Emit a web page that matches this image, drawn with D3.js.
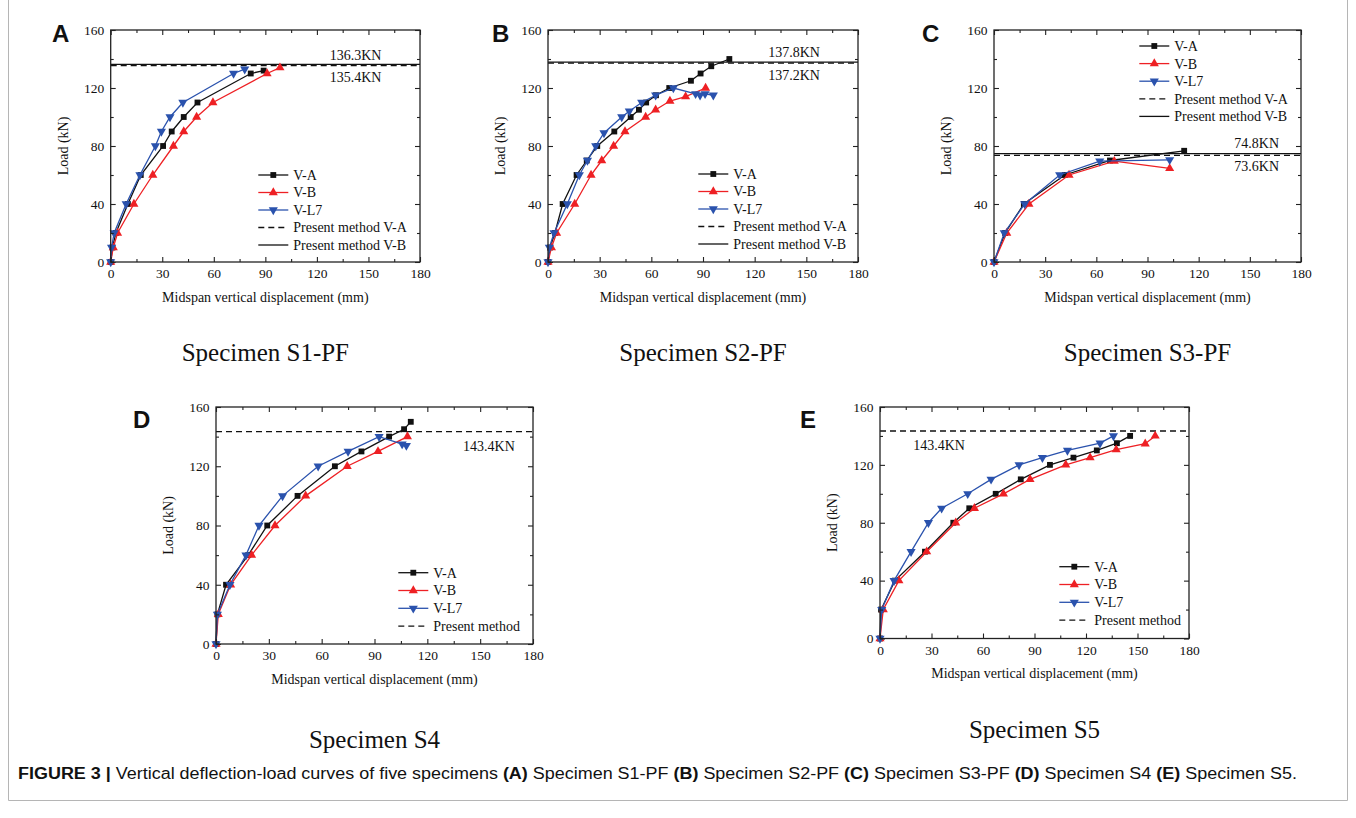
<!DOCTYPE html>
<html>
<head>
<meta charset="utf-8">
<script src="https://cdn.jsdelivr.net/npm/d3@7"></script>
<style>
  body { margin: 0; background: #fff; }
  svg text { font-family: "Times New Roman", "Liberation Serif", serif; fill: #111; }
  .caption text, text.caption { font-family: Arial, "Liberation Sans", sans-serif; }
</style>
</head>
<body>
<svg id="fig" width="1356" height="818"></svg>
<script>
// ticks shared by every panel
var xTicks = [0, 30, 60, 90, 120, 150, 180],
    xMinor = [15, 45, 75, 105, 135, 165],
    yTicks = [0, 40, 80, 120, 160],
    yMinor = [20, 60, 100, 140];

var seriesNames = ["V-A", "V-B", "V-L7"];

// Specimen S1-PF  [displacement mm, load kN]
var s1VA  = [[0,0],[1,10],[3,20],[10,40],[17.5,60],[30.5,80],[35.5,90],[42.5,100],[50.5,110],[81.5,130],[89,132]];
var s1VB  = [[0,0],[1.5,10],[4,20],[13.5,40],[24.5,60],[36.5,80],[42.5,90],[50,100],[59.5,110],[91,130],[98.5,134]];
var s1VL7 = [[0,0],[0.5,10],[2,20],[9,40],[17,60],[26,80],[29.5,90],[34.5,100],[42,110],[71.5,130],[78,133]];
var s1Ref = [136.3, 135.4];   // present method V-B (solid), V-A (dashed)

// Specimen S2-PF
var s2VA  = [[0,0],[1.2,10],[4,20],[8.5,40],[16.6,60],[22.5,70],[28.6,80],[38.5,90],[48,100],[52.8,105],[57,110],[62.7,115],[70.4,120],[83,125],[88.6,130],[94.8,135],[105.3,140]];
var s2VB  = [[0,0],[2,10],[5,20],[15.5,40],[25,60],[31.2,70],[38.1,80],[44.7,90],[56.7,100],[62.5,105],[70.8,111],[79.9,114],[91.5,120]];
var s2VL7 = [[0,0],[0.8,10],[3.5,20],[11.2,40],[18.2,60],[22.9,70],[27.7,80],[32.5,89],[42.8,100],[47.2,104],[54.4,110],[62.5,115],[72.8,120],[85.7,116],[88.3,115],[91.2,116],[96,115]];
var s2Ref = [137.8, 137.2];

// Specimen S3-PF
var s3VA  = [[0,0],[6.5,20],[17.5,40],[41.5,60],[68,70],[111.5,76.7]];
var s3VB  = [[0,0],[7.5,20],[20.5,40],[44,60],[70.5,69.5],[103,64.5]];
var s3VL7 = [[0,0],[6,20],[18,40],[38.5,60],[62,69.5],[103,70.5]];
var s3Ref = [74.8, 73.6];

// Specimen S4
var s4VA  = [[0,0],[0.8,20],[5.7,40],[18.3,60],[29.1,80],[46.3,100],[67.5,120],[82.6,130],[98.3,140],[106.8,145],[110.6,150]];
var s4VB  = [[0,0],[1.3,20],[8.3,40],[20.2,60],[33.5,80],[50.9,100],[74.5,120],[92,130],[108.7,140]];
var s4VL7 = [[0,0],[0.8,20],[7.9,40],[17,60],[24.4,80],[37.8,100],[58,120],[75,130],[92.6,140],[105.7,135],[108.1,134]];
var s4Ref = [143.4];

// Specimen S5
var s5VA  = [[0,0],[0.6,20],[8.7,40],[26.2,60],[42.7,80],[52,90],[67.4,100],[82,110],[99,120],[112.7,125],[126.3,130],[138,135],[145.7,140]];
var s5VB  = [[0,0],[1.9,20],[11,40],[27.2,60],[44.1,80],[55,90],[71.9,100],[87.4,110],[108.2,120],[122.4,125],[137.6,130.5],[154.5,134.6],[160.3,140]];
var s5VL7 = [[0,0],[1,20],[8.2,40],[18.1,60],[28.2,80],[35.9,90],[51.1,100],[64.7,110],[81,120],[94.6,125],[109.2,130],[128.2,135],[136,140]];
var s5Ref = [143.4];

var colors = ["#111111", "#ee2024", "#2a52ad"];

// layout for each panel (pixel boxes and label placement)
var panels = [
  { letter: "A", title: "Specimen S1-PF", box: [110.7, 30, 420, 262], lp: [52, 42], titleY: 361,
    series: [s1VA, s1VB, s1VL7],
    refs: [{ v: s1Ref[0], dash: null, lx: 142.5, dy: -4.5 }, { v: s1Ref[1], dash: "6,4", lx: 142.5, dy: 16 }],
    legend: { x: 258.3, y: 175, step: 17.5, method: ["Present method V-A", "Present method V-B"] } },
  { letter: "B", title: "Specimen S2-PF", box: [548, 30, 858, 262], lp: [492, 42], titleY: 361,
    series: [s2VA, s2VB, s2VL7],
    refs: [{ v: s2Ref[0], dash: null, lx: 142.9, dy: -4.8 }, { v: s2Ref[1], dash: "6,4", lx: 142.9, dy: 16.6 }],
    legend: { x: 698.3, y: 174, step: 17.5, method: ["Present method V-A", "Present method V-B"] } },
  { letter: "C", title: "Specimen S3-PF", box: [994, 30, 1301, 262], lp: [922, 42], titleY: 361,
    series: [s3VA, s3VB, s3VL7],
    refs: [{ v: s3Ref[0], dash: null, lx: 154, dy: -5.5 }, { v: s3Ref[1], dash: "6,4", lx: 154, dy: 16 }],
    legend: { x: 1139.3, y: 46, step: 17.6, method: ["Present method V-A", "Present method V-B"] } },
  { letter: "D", title: "Specimen S4", box: [216, 407, 533, 644], lp: [133, 428], titleY: 748,
    series: [s4VA, s4VB, s4VL7],
    refs: [{ v: s4Ref[0], dash: "6,4", lx: 155, dy: 19 }],
    legend: { x: 398.3, y: 572.7, step: 17.8, method: ["Present method"] } },
  { letter: "E", title: "Specimen S5", box: [880, 407, 1189, 638.5], lp: [800, 428], titleY: 738,
    series: [s5VA, s5VB, s5VL7],
    refs: [{ v: s5Ref[0], dash: "6,4", lx: 34.4, dy: 18.7 }],
    legend: { x: 1059.3, y: 566.7, step: 17.8, method: ["Present method"] } }
];

var svg = d3.select("#fig");

// light frame round the figure
svg.append("path")
  .attr("d", "M8.5,-2V800.5H1347.5V-2")
  .attr("fill", "none").attr("stroke", "#b5b5b5").attr("stroke-width", 1);

function marker(i) {
  if (i === 0) return d3.symbol().type(d3.symbolSquare).size(34)();
  return d3.symbol().type(d3.symbolTriangle).size(36)();
}

function drawMarks(g, i, pts) {
  g.selectAll(null)
    .data(pts)
    .enter().append("path")
    .attr("d", marker(i))
    .attr("fill", colors[i])
    .attr("transform", function(d) {
      return "translate(" + d[0] + "," + d[1] + ")" + (i === 2 ? " rotate(180)" : "");
    });
}

panels.forEach(function(p) {
  var left = p.box[0], top = p.box[1], right = p.box[2], bottom = p.box[3];
  var x = d3.scaleLinear().domain([0, 180]).range([left, right]),
      y = d3.scaleLinear().domain([0, 160]).range([bottom, top]);
  var g = svg.append("g");

  // reference lines from the present method
  p.refs.forEach(function(r) {
    g.append("line")
      .attr("x1", x(0)).attr("x2", x(180))
      .attr("y1", y(r.v)).attr("y2", y(r.v))
      .attr("stroke", "#111").attr("stroke-width", 1.3)
      .attr("stroke-dasharray", r.dash);
    g.append("text")
      .attr("x", x(r.lx)).attr("y", y(r.v) + r.dy)
      .attr("text-anchor", "middle")
      .style("font-size", "14px")
      .text(r.v.toFixed(1) + "KN");
  });

  // curves
  var line = d3.line().x(function(d) { return x(d[0]); }).y(function(d) { return y(d[1]); });
  p.series.forEach(function(s, i) {
    g.append("path")
      .attr("d", line(s))
      .attr("fill", "none")
      .attr("stroke", colors[i])
      .attr("stroke-width", 1.3);
    drawMarks(g, i, s.map(function(d) { return [x(d[0]), y(d[1])]; }));
  });

  // box and inward ticks
  g.append("rect")
    .attr("x", left).attr("y", top)
    .attr("width", right - left).attr("height", bottom - top)
    .attr("fill", "none").attr("stroke", "#222").attr("stroke-width", 1.3);

  function addAxis(axis, tx, ty, vals, size, labels) {
    var a = g.append("g")
      .attr("transform", "translate(" + tx + "," + ty + ")")
      .call(axis.tickValues(vals).tickSizeInner(-size).tickSizeOuter(0).tickPadding(6.5)
        .tickFormat(labels ? d3.format("d") : ""));
    a.select(".domain").remove();
    a.selectAll("line").attr("stroke", "#222").attr("stroke-width", 1.1);
    a.selectAll("text").style("font-size", "13.5px").style("font-family", null).attr("fill", "#111");
  }
  addAxis(d3.axisBottom(x), 0, bottom, xTicks, 5, true);
  addAxis(d3.axisBottom(x), 0, bottom, xMinor, 3, false);
  addAxis(d3.axisTop(x), 0, top, xTicks, 5, false);
  addAxis(d3.axisTop(x), 0, top, xMinor, 3, false);
  addAxis(d3.axisLeft(y), left, 0, yTicks, 5, true);
  addAxis(d3.axisLeft(y), left, 0, yMinor, 3, false);
  addAxis(d3.axisRight(y), right, 0, yTicks, 5, false);
  addAxis(d3.axisRight(y), right, 0, yMinor, 3, false);

  // axis titles
  g.append("text")
    .attr("x", (left + right) / 2).attr("y", bottom + 35).attr("dy", "0.35em")
    .attr("text-anchor", "middle").style("font-size", "14px")
    .text("Midspan vertical displacement (mm)");
  g.append("text")
    .attr("transform", "translate(" + (left - 48) + "," + ((top + bottom) / 2) + ") rotate(-90)")
    .attr("dy", "0.35em")
    .attr("text-anchor", "middle").style("font-size", "14px")
    .text("Load (kN)");

  // legend
  var L = p.legend;
  var entries = seriesNames.map(function(n, i) { return { name: n, i: i }; })
    .concat(L.method.map(function(n, k) { return { name: n, dash: k === 0 ? "6,4" : null }; }));
  var lg = g.append("g");
  entries.forEach(function(e, k) {
    var ly = L.y + k * L.step;
    lg.append("line")
      .attr("x1", L.x).attr("x2", L.x + 30).attr("y1", ly).attr("y2", ly)
      .attr("stroke", e.i == null ? "#111" : colors[e.i])
      .attr("stroke-width", 1.3)
      .attr("stroke-dasharray", e.dash);
    if (e.i != null) drawMarks(lg, e.i, [[L.x + 15, ly]]);
    lg.append("text")
      .attr("x", L.x + 35).attr("y", ly).attr("dy", "0.35em")
      .style("font-size", "14px")
      .text(e.name);
  });

  // panel letter and specimen title
  svg.append("text")
    .attr("x", p.lp[0]).attr("y", p.lp[1])
    .style("font-family", "Arial, 'Liberation Sans', sans-serif")
    .style("font-weight", "bold").style("font-size", "24px")
    .text(p.letter);
  svg.append("text")
    .attr("x", (left + right) / 2).attr("y", p.titleY)
    .attr("text-anchor", "middle").style("font-size", "25px")
    .text(p.title);
});

// caption
var capParts = [
  ["FIGURE 3 | ", true], ["Vertical deflection-load curves of five specimens ", false],
  ["(A)", true], [" Specimen S1-PF ", false], ["(B)", true], [" Specimen S2-PF ", false],
  ["(C)", true], [" Specimen S3-PF ", false], ["(D)", true], [" Specimen S4 ", false],
  ["(E)", true], [" Specimen S5.", false]
];
var cap = svg.append("text")
  .attr("class", "caption")
  .attr("x", 18).attr("y", 779)
  .style("font-family", "Arial, 'Liberation Sans', sans-serif")
  .style("font-size", "16px")
  .attr("xml:space", "preserve");
capParts.forEach(function(c) {
  cap.append("tspan").style("font-weight", c[1] ? "bold" : "normal").text(c[0]);
});
cap.attr("textLength", 1279).attr("lengthAdjust", "spacingAndGlyphs");
</script>
</body>
</html>
